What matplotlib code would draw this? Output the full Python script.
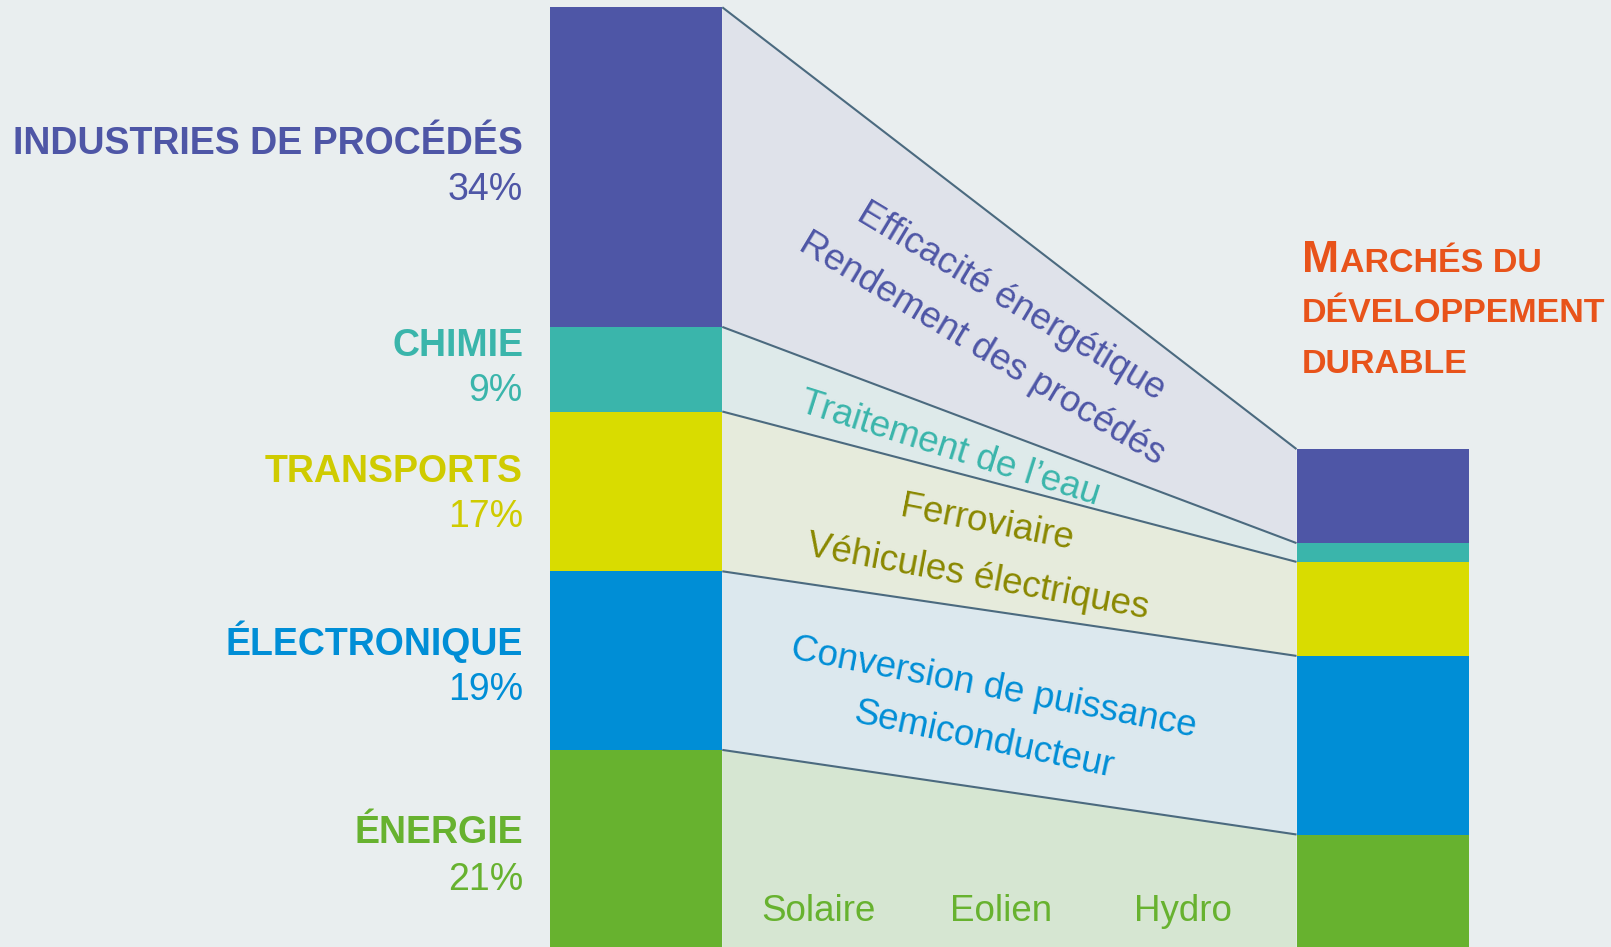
import matplotlib
matplotlib.use("Agg")
import matplotlib.pyplot as plt
import numpy as np
from matplotlib.patches import Polygon

# ---------------- data ----------------
sectors = ["INDUSTRIES DE PROCÉDÉS", "CHIMIE", "TRANSPORTS", "ÉLECTRONIQUE", "ÉNERGIE"]
share_pct = [34, 9, 17, 19, 21]            # left bar (share of sector)
durable_pct = [10, 2, 10, 19, 12]          # right bar (sustainable-development markets)
pct_labels = ["34%", "9%", "17%", "19%", "21%"]
title_lines = ["MARCHÉS DU", "DÉVELOPPEMENT", "DURABLE"]

# ---------------- style ----------------
bar_colors = ["#4e56a6", "#3ab5ab", "#d9dc00", "#008ed6", "#67b22f"]
label_colors = ["#4e56a6", "#3ab5ab", "#cfcb00", "#008ed6", "#67b22f"]
flow_text_colors = ["#4e56a6", "#3ab5ab", "#8a8800", "#008ed6", "#67b22f"]
flow_fill = ["#dfe2ea", "#deeaea", "#e6ebdc", "#dce8ee", "#d6e6d2"]
bg = "#e9eeef"
line_col = "#4b6a7f"
orange = "#e8531a"
FONT = "Liberation Sans"
plt.rcParams["font.family"] = [FONT, "DejaVu Sans"]

W, H = 1611, 947
PX_PER_PCT = 9.4
TOP_PX = 7.3

fig = plt.figure(figsize=(W / 100, H / 100), dpi=100, facecolor=bg)
ax = fig.add_axes([0, 0, 1, 1])
ax.set_facecolor(bg)
ax.set_xlim(0, W)
ax.set_ylim((H - TOP_PX) / PX_PER_PCT, -TOP_PX / PX_PER_PCT)
ax.axis("off")

def px2fig(x, y):
    return x / W, 1 - y / H

# bars
xl, xr, bw = 636.3, 1382.5, 172
left_bottoms = np.concatenate([[0], np.cumsum(share_pct)[:-1]])
right_start = sum(share_pct) - sum(durable_pct)
right_bottoms = right_start + np.concatenate([[0], np.cumsum(durable_pct)[:-1]])

ax.bar([xl] * 5, share_pct, bottom=left_bottoms, width=bw, color=bar_colors,
       align="center", zorder=3, linewidth=0)
ax.bar([xr] * 5, durable_pct, bottom=right_bottoms, width=bw, color=bar_colors,
       align="center", zorder=3, linewidth=0)

# flows
x0 = xl + bw / 2
x1 = xr - bw / 2
for i in range(5):
    lt, lb = left_bottoms[i], left_bottoms[i] + share_pct[i]
    rt, rb = right_bottoms[i], right_bottoms[i] + durable_pct[i]
    poly = Polygon([(x0, lt), (x1, rt), (x1, rb), (x0, lb)], closed=True,
                   facecolor=flow_fill[i], edgecolor="none", zorder=1)
    ax.add_patch(poly)
    ax.plot([x0, x1], [lt, rt], color=line_col, lw=1.5, zorder=2,
            solid_capstyle="butt")

# left labels (cap-centre pixel rows)
name_rows = [141, 343, 469, 642, 830]
pct_rows = [187, 388, 514, 687, 877]
cap_half = 27 * 0.716 / 2  # points
for i in range(5):
    fx, fy = px2fig(523, name_rows[i])
    fig.text(fx, fy - cap_half / 72 / (H / 100), sectors[i], ha="right", va="baseline",
             fontsize=27, fontweight="bold", color=label_colors[i], family=FONT)
    fx, fy = px2fig(523, pct_rows[i])
    fig.text(fx, fy - cap_half / 72 / (H / 100), pct_labels[i], ha="right", va="baseline",
             fontsize=27, color=label_colors[i], family=FONT)

# flow labels
flow_texts = [
    ("Efficacité énergétique", 0, 1011, 302, -31),
    ("Rendement des procédés", 0, 982, 349, -31),
    ("Traitement de l’eau", 1, 950, 449, -17.5),
    ("Ferroviaire", 2, 987, 523, -11),
    ("Véhicules électriques", 2, 978, 577, -10.5),
    ("Conversion de puissance", 3, 994, 688, -11),
    ("Semiconducteur", 3, 984, 740, -12),
    ("Solaire", 4, 819, 911, 0),
    ("Eolien", 4, 1001, 911, 0),
    ("Hydro", 4, 1183, 911, 0),
]
for txt, k, x, y, rot in flow_texts:
    fx, fy = px2fig(x, y)
    fig.text(fx, fy, txt, rotation=rot, rotation_mode="anchor", ha="center",
             va="center", fontsize=26.5, color=flow_text_colors[k], family=FONT,
             zorder=5)

# title (small caps on first line)
fx, fy = px2fig(1302, 272)
tM = fig.text(fx, fy, title_lines[0][0], fontsize=32, fontweight="bold", color=orange,
              ha="left", va="baseline", family=FONT)
fig.canvas.draw()
bb = tM.get_window_extent(renderer=fig.canvas.get_renderer())
fig.text(bb.x1 / W + 1 / W, fy, title_lines[0][1:], fontsize=24.5, fontweight="bold",
         color=orange, ha="left", va="baseline", family=FONT)
for line, ybase in zip(title_lines[1:], [322, 373]):
    fx, fy = px2fig(1302, ybase)
    fig.text(fx, fy, line, fontsize=24.5, fontweight="bold", color=orange,
             ha="left", va="baseline", family=FONT)

fig.savefig("out.png", dpi=100, facecolor=bg)
